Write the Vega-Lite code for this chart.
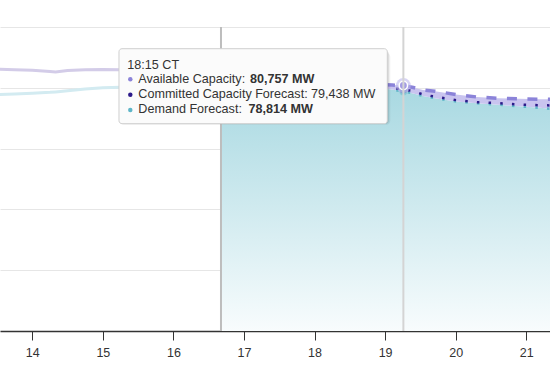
{
  "$schema": "https://vega.github.io/schema/vega-lite/v6.json",
  "width": 550,
  "height": 304,
  "autosize": {"type": "none"},
  "padding": {"top": 27, "left": 0, "right": 0, "bottom": 42},
  "background": "#ffffff",
  "config": {
    "view": {"stroke": null},
    "font": "Liberation Sans",
    "axisX": {"tickCount": 8, "format": "d", "grid": false, "domainColor": "#333333", "domainWidth": 1.5, "tickColor": "#333333", "tickWidth": 1, "tickSize": 9, "labelPadding": 6, "labelFont": "Liberation Sans", "labelFontSize": 12.5, "labelColor": "#333333", "labelFlush": false},
    "axisY": {"tickCount": 5, "labels": false, "ticks": false, "domain": false, "grid": true, "gridColor": "#e6e6e6", "gridWidth": 1}
  },
  "datasets": {
    "past": [
      {"h": 13.5, "avail": 86100, "demand": 77800},
      {"h": 13.75, "avail": 85900, "demand": 77950},
      {"h": 14.0, "avail": 85750, "demand": 78200},
      {"h": 14.25, "avail": 85400, "demand": 78500},
      {"h": 14.33, "avail": 85200, "demand": 78650},
      {"h": 14.5, "avail": 85700, "demand": 79000},
      {"h": 14.75, "avail": 85900, "demand": 79600},
      {"h": 15.0, "avail": 86000, "demand": 80000},
      {"h": 15.25, "avail": 85950, "demand": 80200},
      {"h": 15.5, "avail": 85900, "demand": 80400},
      {"h": 15.75, "avail": 86000, "demand": 80600},
      {"h": 16.0, "avail": 86100, "demand": 80800},
      {"h": 16.25, "avail": 86000, "demand": 81000},
      {"h": 16.5, "avail": 85900, "demand": 81200},
      {"h": 16.674, "avail": 85800, "demand": 81300}
    ],
    "fc": [
      {"h": 16.674, "avail": 82000, "commit": 81500, "demand": 81000},
      {"h": 17.0, "avail": 81900, "commit": 81500, "demand": 81200},
      {"h": 17.5, "avail": 81700, "commit": 81300, "demand": 81300},
      {"h": 18.0, "avail": 81500, "commit": 81100, "demand": 81100},
      {"h": 18.5, "avail": 81300, "commit": 80800, "demand": 80600},
      {"h": 19.0, "avail": 81000, "commit": 80200, "demand": 79700},
      {"h": 19.1, "avail": 80900, "commit": 79950, "demand": 79400},
      {"h": 19.259, "avail": 80757, "commit": 79438, "demand": 78814},
      {"h": 19.4, "avail": 80100, "commit": 78950, "demand": 78130},
      {"h": 19.537, "avail": 79280, "commit": 77800, "demand": 77300},
      {"h": 19.707, "avail": 78880, "commit": 77070, "demand": 76600},
      {"h": 20.005, "avail": 77800, "commit": 75950, "demand": 75500},
      {"h": 20.303, "avail": 76970, "commit": 75250, "demand": 74900},
      {"h": 20.6, "avail": 76550, "commit": 74950, "demand": 74450},
      {"h": 20.898, "avail": 76410, "commit": 74500, "demand": 73900},
      {"h": 21.195, "avail": 76250, "commit": 74250, "demand": 73400},
      {"h": 21.4, "avail": 76200, "commit": 74200, "demand": 73000}
    ],
    "cursor": [
      {"h": 19.259, "series": "Available Capacity", "v": 80757},
      {"h": 19.259, "series": "Committed Capacity Forecast", "v": 79438},
      {"h": 19.259, "series": "Demand Forecast", "v": 78814}
    ],
    "tipbox": [
      {"x1": 15.2285, "x2": 19.031, "y1": 68191, "y2": 92862}
    ],
    "tiptitle": [
      {"t": "18:15 CT", "h": 15.3461, "v": 86283}
    ],
    "tiplines": [
      {"series": "Available Capacity", "label": "Available Capacity:", "value": "80,757 MW", "bh": 15.3887, "lh": 15.502, "vh": 17.0851, "v": 81579, "bv": 82796},
      {"series": "Committed Capacity Forecast", "label": "Committed Capacity Forecast:", "value": "79,438 MW", "bh": 15.3887, "lh": 15.502, "vh": 17.9496, "v": 76645, "bv": 77730},
      {"series": "Demand Forecast", "label": "Demand Forecast:", "value": "78,814 MW", "bh": 15.3887, "lh": 15.502, "vh": 17.0638, "v": 71612, "bv": 72697}
    ]
  },
  "layer": [
    {
      "data": {"name": "fc"},
      "mark": {"type": "area", "clip": true, "color": {"gradient": "linear", "x1": 0, "y1": 0, "x2": 0, "y2": 1, "stops": [{"offset": 0, "color": "#a7d8e1"}, {"offset": 1, "color": "#f8fcfd"}]}},
      "encoding": {
        "x": {"field": "h", "type": "quantitative", "title": null, "scale": {"domain": [13.542, 21.337], "nice": false, "zero": false}},
        "y": {"field": "demand", "type": "quantitative", "title": null, "scale": {"domain": [0, 100000], "nice": false, "zero": true}}
      }
    },
    {
      "data": {"name": "fc"},
      "mark": {"type": "area", "clip": true, "color": "#c9c4ef"},
      "encoding": {
        "x": {"field": "h", "type": "quantitative", "title": null, "scale": {"domain": [13.542, 21.337], "nice": false, "zero": false}},
        "y": {"field": "avail", "type": "quantitative", "title": null, "scale": {"domain": [0, 100000], "nice": false, "zero": true}},
        "y2": {"field": "demand"}
      }
    },
    {
      "data": {"name": "past"},
      "mark": {"type": "line", "clip": true, "color": "#d3cce8", "strokeWidth": 3},
      "encoding": {
        "x": {"field": "h", "type": "quantitative", "title": null, "scale": {"domain": [13.542, 21.337], "nice": false, "zero": false}},
        "y": {"field": "avail", "type": "quantitative", "title": null, "scale": {"domain": [0, 100000], "nice": false, "zero": true}}
      }
    },
    {
      "data": {"name": "past"},
      "mark": {"type": "line", "clip": true, "color": "#d3ebf1", "strokeWidth": 3},
      "encoding": {
        "x": {"field": "h", "type": "quantitative", "title": null, "scale": {"domain": [13.542, 21.337], "nice": false, "zero": false}},
        "y": {"field": "demand", "type": "quantitative", "title": null, "scale": {"domain": [0, 100000], "nice": false, "zero": true}}
      }
    },
    {
      "data": {"name": "fc"},
      "mark": {"type": "line", "clip": true, "color": "#5fb6c8", "strokeWidth": 2.5, "strokeDash": [2.5, 9.2]},
      "encoding": {
        "x": {"field": "h", "type": "quantitative", "title": null, "scale": {"domain": [13.542, 21.337], "nice": false, "zero": false}},
        "y": {"field": "demand", "type": "quantitative", "title": null, "scale": {"domain": [0, 100000], "nice": false, "zero": true}}
      }
    },
    {
      "data": {"name": "fc"},
      "mark": {"type": "line", "clip": true, "color": "#2c1a8a", "strokeWidth": 2.5, "strokeDash": [2.5, 9.2]},
      "encoding": {
        "x": {"field": "h", "type": "quantitative", "title": null, "scale": {"domain": [13.542, 21.337], "nice": false, "zero": false}},
        "y": {"field": "commit", "type": "quantitative", "title": null, "scale": {"domain": [0, 100000], "nice": false, "zero": true}}
      }
    },
    {
      "data": {"name": "fc"},
      "mark": {"type": "line", "clip": true, "color": "#8b83d9", "strokeWidth": 3.5, "strokeDash": [10, 10.5]},
      "encoding": {
        "x": {"field": "h", "type": "quantitative", "title": null, "scale": {"domain": [13.542, 21.337], "nice": false, "zero": false}},
        "y": {"field": "avail", "type": "quantitative", "title": null, "scale": {"domain": [0, 100000], "nice": false, "zero": true}}
      }
    },
    {
      "data": {"values": [{"h": 16.674}]},
      "mark": {"type": "rule", "color": "#bdbdbd", "strokeWidth": 2},
      "encoding": {
        "x": {"field": "h", "type": "quantitative", "title": null, "scale": {"domain": [13.542, 21.337], "nice": false, "zero": false}}
      }
    },
    {
      "data": {"name": "cursor"},
      "transform": [{"filter": "datum.series !== 'Available Capacity'"}],
      "mark": {"type": "point", "filled": true, "shape": "circle", "size": 60, "opacity": 0.45},
      "encoding": {
        "x": {"field": "h", "type": "quantitative", "title": null, "scale": {"domain": [13.542, 21.337], "nice": false, "zero": false}},
        "y": {"field": "v", "type": "quantitative", "title": null, "scale": {"domain": [0, 100000], "nice": false, "zero": true}},
        "color": {"field": "series", "type": "nominal", "scale": {"domain": ["Available Capacity", "Committed Capacity Forecast", "Demand Forecast"], "range": ["#8b83d9", "#2c1a8a", "#5fb6c8"]}, "legend": null}
      }
    },
    {
      "data": {"name": "cursor"},
      "transform": [{"filter": "datum.series === 'Available Capacity'"}],
      "mark": {"type": "point", "filled": true, "shape": "circle", "size": 220, "color": "#bdb7ec", "opacity": 0.6},
      "encoding": {
        "x": {"field": "h", "type": "quantitative", "title": null, "scale": {"domain": [13.542, 21.337], "nice": false, "zero": false}},
        "y": {"field": "v", "type": "quantitative", "title": null, "scale": {"domain": [0, 100000], "nice": false, "zero": true}}
      }
    },
    {
      "data": {"name": "cursor"},
      "transform": [{"filter": "datum.series === 'Available Capacity'"}],
      "mark": {"type": "point", "filled": true, "shape": "circle", "size": 70, "color": "#a49de3", "opacity": 1, "stroke": "#ffffff", "strokeWidth": 1.5},
      "encoding": {
        "x": {"field": "h", "type": "quantitative", "title": null, "scale": {"domain": [13.542, 21.337], "nice": false, "zero": false}},
        "y": {"field": "v", "type": "quantitative", "title": null, "scale": {"domain": [0, 100000], "nice": false, "zero": true}}
      }
    },
    {
      "data": {"values": [{"h": 19.259}]},
      "mark": {"type": "rule", "color": "#d4d4d4", "strokeWidth": 2},
      "encoding": {
        "x": {"field": "h", "type": "quantitative", "title": null, "scale": {"domain": [13.542, 21.337], "nice": false, "zero": false}}
      }
    },
    {
      "data": {"name": "tipbox"},
      "mark": {"type": "rect", "color": "#000000", "opacity": 0.06, "cornerRadius": 4, "xOffset": 1, "x2Offset": 3, "yOffset": 1, "y2Offset": 4},
      "encoding": {
        "x": {"field": "x1", "type": "quantitative", "title": null, "scale": {"domain": [13.542, 21.337], "nice": false, "zero": false}},
        "x2": {"field": "x2"},
        "y": {"field": "y1", "type": "quantitative", "title": null, "scale": {"domain": [0, 100000], "nice": false, "zero": true}},
        "y2": {"field": "y2"}
      }
    },
    {
      "data": {"name": "tipbox"},
      "mark": {"type": "rect", "color": "#000000", "opacity": 0.1, "cornerRadius": 3, "xOffset": 0, "x2Offset": 1.5, "yOffset": 0, "y2Offset": 2},
      "encoding": {
        "x": {"field": "x1", "type": "quantitative", "title": null, "scale": {"domain": [13.542, 21.337], "nice": false, "zero": false}},
        "x2": {"field": "x2"},
        "y": {"field": "y1", "type": "quantitative", "title": null, "scale": {"domain": [0, 100000], "nice": false, "zero": true}},
        "y2": {"field": "y2"}
      }
    },
    {
      "data": {"name": "tipbox"},
      "mark": {"type": "rect", "fill": "#fbfbfb", "stroke": "#cfcfcf", "strokeWidth": 1, "cornerRadius": 3},
      "encoding": {
        "x": {"field": "x1", "type": "quantitative", "title": null, "scale": {"domain": [13.542, 21.337], "nice": false, "zero": false}},
        "x2": {"field": "x2"},
        "y": {"field": "y1", "type": "quantitative", "title": null, "scale": {"domain": [0, 100000], "nice": false, "zero": true}},
        "y2": {"field": "y2"}
      }
    },
    {
      "data": {"name": "tiptitle"},
      "mark": {"type": "text", "align": "left", "baseline": "alphabetic", "font": "Liberation Sans", "fontSize": 12.6, "color": "#333333"},
      "encoding": {
        "x": {"field": "h", "type": "quantitative", "title": null, "scale": {"domain": [13.542, 21.337], "nice": false, "zero": false}},
        "y": {"field": "v", "type": "quantitative", "title": null, "scale": {"domain": [0, 100000], "nice": false, "zero": true}},
        "text": {"field": "t"}
      }
    },
    {
      "data": {"name": "tiplines"},
      "mark": {"type": "point", "filled": true, "shape": "circle", "size": 20, "opacity": 1},
      "encoding": {
        "x": {"field": "bh", "type": "quantitative", "title": null, "scale": {"domain": [13.542, 21.337], "nice": false, "zero": false}},
        "y": {"field": "bv", "type": "quantitative", "title": null, "scale": {"domain": [0, 100000], "nice": false, "zero": true}},
        "color": {"field": "series", "type": "nominal", "scale": {"domain": ["Available Capacity", "Committed Capacity Forecast", "Demand Forecast"], "range": ["#8b83d9", "#2c1a8a", "#5fb6c8"]}, "legend": null}
      }
    },
    {
      "data": {"name": "tiplines"},
      "mark": {"type": "text", "align": "left", "baseline": "alphabetic", "font": "Liberation Sans", "fontSize": 12.6, "color": "#333333"},
      "encoding": {
        "x": {"field": "lh", "type": "quantitative", "title": null, "scale": {"domain": [13.542, 21.337], "nice": false, "zero": false}},
        "y": {"field": "v", "type": "quantitative", "title": null, "scale": {"domain": [0, 100000], "nice": false, "zero": true}},
        "text": {"field": "label"}
      }
    },
    {
      "data": {"name": "tiplines"},
      "transform": [{"filter": "datum.series !== 'Committed Capacity Forecast'"}],
      "mark": {"type": "text", "align": "left", "baseline": "alphabetic", "font": "Liberation Sans", "fontSize": 12.6, "fontWeight": "bold", "color": "#333333"},
      "encoding": {
        "x": {"field": "vh", "type": "quantitative", "title": null, "scale": {"domain": [13.542, 21.337], "nice": false, "zero": false}},
        "y": {"field": "v", "type": "quantitative", "title": null, "scale": {"domain": [0, 100000], "nice": false, "zero": true}},
        "text": {"field": "value"}
      }
    },
    {
      "data": {"name": "tiplines"},
      "transform": [{"filter": "datum.series === 'Committed Capacity Forecast'"}],
      "mark": {"type": "text", "align": "left", "baseline": "alphabetic", "font": "Liberation Sans", "fontSize": 12.6, "color": "#333333"},
      "encoding": {
        "x": {"field": "vh", "type": "quantitative", "title": null, "scale": {"domain": [13.542, 21.337], "nice": false, "zero": false}},
        "y": {"field": "v", "type": "quantitative", "title": null, "scale": {"domain": [0, 100000], "nice": false, "zero": true}},
        "text": {"field": "value"}
      }
    }
  ]
}
